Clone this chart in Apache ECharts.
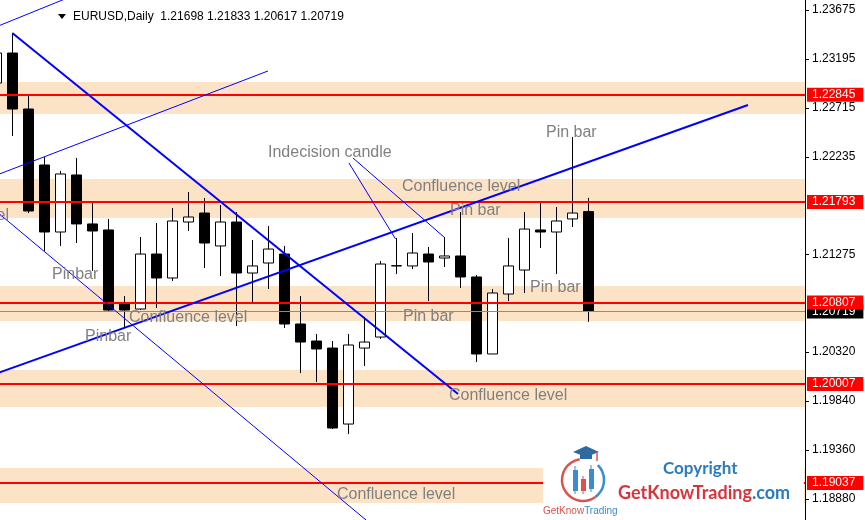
<!DOCTYPE html>
<html><head><meta charset="utf-8">
<script src="https://cdn.jsdelivr.net/npm/echarts@6/dist/echarts.min.js"></script>
<style>html,body{margin:0;padding:0;background:#fff;overflow:hidden}#c{width:865px;height:520px}</style>
</head><body><div id="c"></div>
<script>
// ---- data (EURUSD daily) ----
const opens  = [1.22959,1.23253,1.22704,1.22155,1.21498,1.22057,1.21577,1.21518,1.20802,1.20743,1.21282,1.21047,1.21596,1.21684,1.21361,1.21596,1.21096,1.21194,1.21282,1.20596,1.20429,1.20360,1.19615,1.20360,1.20468,1.21165,1.21165,1.21282,1.21243,1.21263,1.21057,1.20302,1.20890,1.21125,1.21518,1.21498,1.21626,1.21698];
const closes = [1.23253,1.22704,1.21704,1.21498,1.22067,1.21577,1.21508,1.20733,1.20733,1.21282,1.21047,1.21606,1.21645,1.21390,1.21596,1.21096,1.21165,1.21331,1.20596,1.20419,1.20351,1.19576,1.20390,1.20419,1.21184,1.21168,1.21292,1.21204,1.21263,1.21057,1.20302,1.20900,1.21165,1.21527,1.21498,1.21606,1.21684,1.20719];
const lows   = [1.22871,1.22439,1.21684,1.21312,1.21361,1.21390,1.21116,1.20723,1.20557,1.20733,1.20753,1.21018,1.21508,1.21145,1.21067,1.20576,1.20802,1.20939,1.20557,1.20115,1.20027,1.19566,1.19517,1.20184,1.20449,1.21086,1.21135,1.20821,1.21155,1.20949,1.20223,1.20302,1.20821,1.20900,1.21341,1.21086,1.21547,1.20617];
const highs  = [1.23332,1.23449,1.22841,1.22233,1.22096,1.22224,1.21782,1.21626,1.20870,1.21449,1.21586,1.21733,1.21890,1.21831,1.21763,1.21694,1.21420,1.21557,1.21361,1.20870,1.20498,1.20429,1.20498,1.20665,1.21214,1.21439,1.21488,1.21351,1.21449,1.21694,1.21076,1.20939,1.21439,1.21694,1.21782,1.21743,1.22430,1.21833];
const dayIndex = opens.map((_, i) => i);   // bar slot of each daily candle

const levels    = [1.22845, 1.21793, 1.20807, 1.20007, 1.19037];
const zoneLows  = [1.22655, 1.21635, 1.20625, 1.19782, 1.18841];
const zoneHighs = [1.22969, 1.22018, 1.20969, 1.20145, 1.19184];
const lastPrice = 1.20719;
const yTicks = [1.18880, 1.19360, 1.19840, 1.20320, 1.21275, 1.22235, 1.22715, 1.23195, 1.23675];
const yMin = 1.18674, yMax = 1.23773;
const xMin = 0.23125, xMax = 50.54375;   // visible bar-slot window

// trend lines: [x(slot index), price] pairs
const thickDown  = [[1.0, 1.23449], [28.86, 1.19909]];
const thickUp    = [[0.0, 1.20110], [46.98, 1.22743]];
const thinUpA    = [[0.0, 1.23510], [4.9, 1.23822]];
const thinUpB    = [[0.0, 1.22055], [16.98, 1.23077]];
const thinDown   = [[0.0, 1.21700], [23.48, 1.18625]];
const pointerA   = [[22.04, 1.22175], [24.95, 1.21430]];
const pointerB   = [[22.29, 1.22224], [27.98, 1.21449]];

const header = 'EURUSD,Daily  1.21698 1.21833 1.20617 1.20719';

const candleData = opens.map((o, i) => [dayIndex[i], o, closes[i], lows[i], highs[i]]);

const chart = echarts.init(document.getElementById('c'));
const GRAY = '#808080';
const F = '"Liberation Sans", Arial, sans-serif';

function lineSeries(pts, w) {
  return {type: 'line', data: pts, symbol: 'none', silent: true, z: 5,
          lineStyle: {color: '#0000ff', width: w}, clip: true, animation: false};
}
function note(text, x, y, align) {
  return {type: 'text', x: x, y: y, z: 50, silent: true,
          style: {text: text, fill: GRAY, font: '16px ' + F, verticalAlign: 'middle', align: align || 'left'}};
}

const priceLabel = (bg) => ({show: true, position: 'end', distance: 2, color: '#fff', backgroundColor: bg,
  fontSize: 12, fontFamily: F, padding: [1, 8, 1, 5], formatter: p => Number(p.value).toFixed(5)});

chart.setOption({
  animation: false,
  backgroundColor: '#fff',
  grid: {left: 0, right: 60, top: 0, bottom: 0},
  xAxis: {type: 'value', min: xMin, max: xMax, show: false, splitLine: {show: false}},
  yAxis: {
    type: 'value', position: 'right', min: yMin, max: yMax, scale: true,
    splitLine: {show: false},
    axisLine: {show: true, onZero: false, lineStyle: {color: '#000', width: 1}},
    axisTick: {show: true, length: 4, lineStyle: {color: '#000'}, customValues: yTicks},
    axisLabel: {color: '#000', fontSize: 12, fontFamily: F, margin: 7, customValues: yTicks,
                formatter: v => v.toFixed(5)}
  },
  series: [
    {
      type: 'line', data: [], z: 1, silent: true,
      markArea: {silent: true, precision: 5, itemStyle: {color: '#fde3c6', opacity: 1},
        data: zoneLows.map((lo, i) => [{yAxis: lo}, {yAxis: zoneHighs[i]}])}
    },
    {
      type: 'candlestick', data: candleData, barWidth: 10, z: 3, silent: true, clip: true,
      encode: {x: 0, y: [1, 2, 3, 4]},
      itemStyle: {color: '#ffffff', color0: '#000000', borderColor: '#000000', borderColor0: '#000000', borderWidth: 1}
    },
    lineSeries(thickDown, 2),
    lineSeries(thickUp, 2),
    lineSeries(thinUpA, 1),
    lineSeries(thinUpB, 1),
    lineSeries(thinDown, 1),
    lineSeries(pointerA, 1),
    lineSeries(pointerB, 1),
    {
      type: 'line', data: [], z: 6, silent: true,
      markLine: {silent: true, symbol: 'none', animation: false, precision: 5,
        data: [{yAxis: lastPrice, lineStyle: {color: '#8c8c8c', width: 1, type: 'solid'}, label: priceLabel('#000')}]
          .concat(levels.map(v => ({yAxis: v, lineStyle: {color: '#ff0000', width: 2, type: 'solid'}, label: priceLabel('#ff0000')})))
      }
    }
  ],
  graphic: [
    note('Indecision candle', 268, 153),
    note('Confluence level', 402, 187),
    note('Pin bar', 450, 211),
    note('Pin bar', 546, 133),
    note('Confluence level', 9, 216, 'right'),
    note('Pinbar', 52, 275),
    note('Pinbar', 85, 337),
    note('Confluence level', 129, 318),
    note('Pin bar', 403, 317),
    note('Pin bar', 530, 288),
    note('Confluence level', 449, 396),
    note('Confluence level', 337, 495),
    {type: 'polygon', z: 60, shape: {points: [[58, 14], [66, 14], [62, 19]]}, style: {fill: '#000'}},
    {type: 'text', x: 73, y: 17, z: 60, style: {text: header, fill: '#000', font: '12px "Liberation Sans Narrow", "Liberation Sans", Arial', verticalAlign: 'middle'}},
    // logo block
    {type: 'rect', z: 40, shape: {x: 543, y: 440, width: 261, height: 80}, style: {fill: '#fff'}},
    {type: 'arc', z: 61, shape: {cx: 583, cy: 480, r: 21, startAngle: Math.PI * 0.3, endAngle: Math.PI * 1.45}, style: {stroke: '#d9534f', lineWidth: 2.5, fill: null}},
    {type: 'arc', z: 61, shape: {cx: 583, cy: 480, r: 21, startAngle: Math.PI * 1.75, endAngle: Math.PI * 2.3}, style: {stroke: '#3b8ccc', lineWidth: 2.5, fill: null}},
    {type: 'polygon', z: 62, shape: {points: [[573, 452], [586, 446], [599, 452], [586, 457]]}, style: {fill: '#2c6aa0'}},
    {type: 'rect', z: 62, shape: {x: 580, y: 454, width: 12, height: 5}, style: {fill: '#2c6aa0'}},
    {type: 'line', z: 62, shape: {x1: 597, y1: 452, x2: 597, y2: 461}, style: {stroke: '#d9534f', lineWidth: 1.5}},
    {type: 'line', z: 62, shape: {x1: 575, y1: 466, x2: 575, y2: 494}, style: {stroke: '#3b8ccc', lineWidth: 1}},
    {type: 'rect', z: 62, shape: {x: 573, y: 470, width: 5, height: 21}, style: {fill: '#3b8ccc'}},
    {type: 'line', z: 62, shape: {x1: 583, y1: 476, x2: 583, y2: 494}, style: {stroke: '#d9534f', lineWidth: 1}},
    {type: 'rect', z: 62, shape: {x: 581, y: 479, width: 5, height: 12}, style: {fill: '#d9534f'}},
    {type: 'line', z: 62, shape: {x1: 591, y1: 465, x2: 591, y2: 492}, style: {stroke: '#3b8ccc', lineWidth: 1}},
    {type: 'rect', z: 62, shape: {x: 589, y: 469, width: 5, height: 20}, style: {fill: '#3b8ccc'}},
    {type: 'text', x: 543, y: 511, z: 62, style: {text: '{r|GetKnow}{b|Trading}', verticalAlign: 'middle',
      rich: {r: {fill: '#d9534f', font: '10px ' + F}, b: {fill: '#3b8ccc', font: '10px ' + F}}}},
    {type: 'text', x: 663, y: 469, z: 62, style: {text: 'Copyright', fill: '#2b7bbf', font: 'bold 17px Lato, ' + F, verticalAlign: 'middle'}},
    {type: 'text', x: 618, y: 493, z: 62, style: {text: '{r|GetKnowTrading}{b|.com}', verticalAlign: 'middle',
      rich: {r: {fill: '#d8343c', font: 'bold 18px Lato, ' + F}, b: {fill: '#2b7bbf', font: 'bold 18px Lato, ' + F}}}}
  ]
});
</script></body></html>
